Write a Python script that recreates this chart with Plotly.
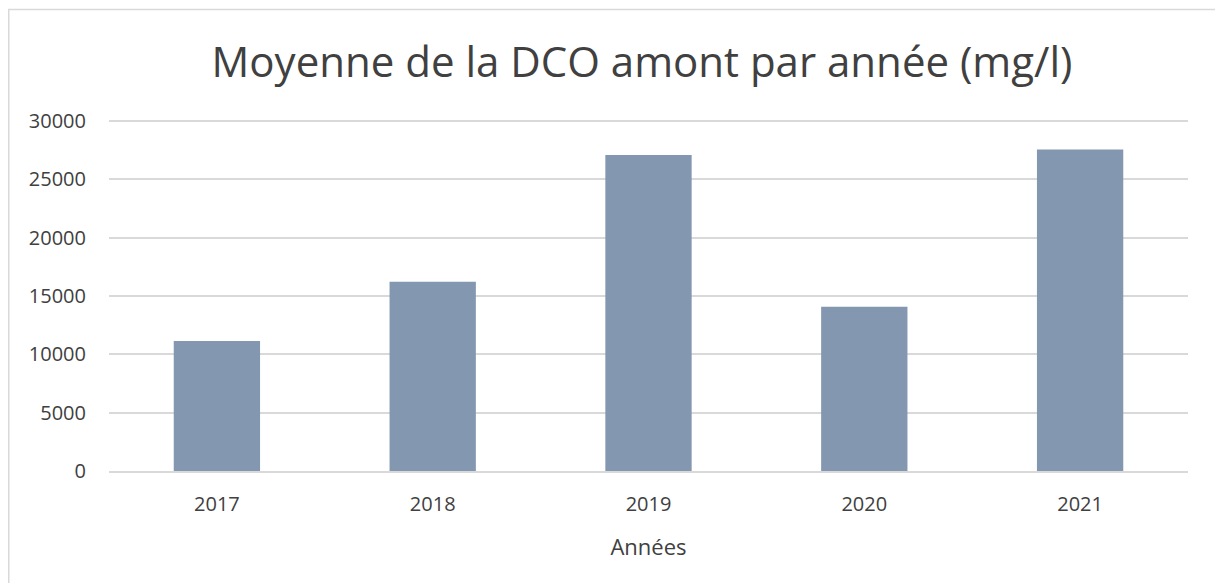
import plotly.graph_objects as go

years = ["2017", "2018", "2019", "2020", "2021"]
dco_mean = [11150, 16230, 27090, 14080, 27570]
y_ticks = [0, 5000, 10000, 15000, 20000, 25000, 30000]
y_tick_labels = ["0", "5000", "10000", "15000", "20000", "25000", "30000"]

# page body adds an 8px offset; figure coordinates below are relative to the figure
W, H = 1210, 583
ml, mr, mt, mb = 101, 30, 112, 120
pw, ph = W - ml - mr, H - mt - mb

fig = go.Figure(go.Bar(
    x=years, y=dco_mean,
    marker=dict(color="#8497B0", line=dict(width=0)),
    width=0.4,
))

font_family = "Open Sans, Liberation Sans, sans-serif"
fig.update_layout(
    width=W, height=H,
    margin=dict(l=ml, r=mr, t=mt, b=mb),
    paper_bgcolor="white", plot_bgcolor="white",
    font=dict(family=font_family, color="#404040", size=20),
    title=dict(text="Moyenne de la DCO amont par année (mg/l)",
               x=634 / W, xanchor="center", y=1 - 54 / H, yanchor="middle",
               font=dict(size=42, color="#404040", family=font_family)),
    showlegend=False,
    bargap=0.6,
    xaxis=dict(title=dict(text="Années", standoff=24, font=dict(size=22, color="#404040")),
               showgrid=False, showline=True, linecolor="#D9D9D9", linewidth=1.5,
               ticks="", ticklabelstandoff=14, tickfont=dict(size=20, color="#404040")),
    yaxis=dict(range=[0, 30090], tickvals=y_ticks, ticktext=y_tick_labels,
               showgrid=True, gridcolor="#D9D9D9",
               gridwidth=1.5, zeroline=False, showline=False, ticks="",
               ticklabelstandoff=22, tickfont=dict(size=20, color="#404040")),
    shapes=[dict(type="rect", xref="paper", yref="paper",
                 x0=(0.75 - ml) / pw, x1=(1209.25 - ml) / pw,
                 y0=(H - mb - 620) / ph, y1=(H - mb - 1.5) / ph,
                 line=dict(color="#D9D9D9", width=1.5), fillcolor="rgba(0,0,0,0)",
                 layer="below")],
)

fig.write_html("out.html")
